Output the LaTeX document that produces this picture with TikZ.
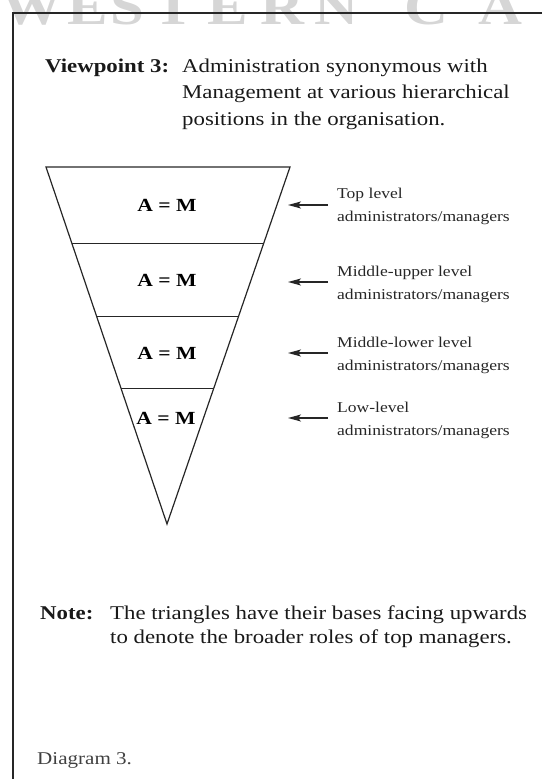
\documentclass[tikz,border=0pt]{standalone}
\usepackage{fontspec}
\setmainfont[FakeStretch=1.17]{Liberation Serif}
\usetikzlibrary{arrows.meta,calc}
\tikzset{
  frame/.style={line width=1.5pt, draw=black!85},
  tri/.style={line width=1.2pt, draw=black!85},
  lvl/.style={font=\fontsize{18.5}{18.5}\selectfont\bfseries, inner sep=0pt},
  lbl/.style={font=\fontsize{15}{15}\selectfont, anchor=base west, inner sep=0pt, text=black!85},
  body/.style={font=\fontsize{19.5}{19.5}\selectfont, anchor=base west, inner sep=0pt, text=black!90},
  bodyb/.style={body, font=\fontsize{19.5}{19.5}\selectfont\bfseries},
  pointer/.style={line width=1.4pt, draw=black!85, -{Stealth[length=13pt,width=7pt,inset=3pt]}},
  wmark/.style={font=\fontsize{52}{52}\selectfont\bfseries, text=black!16, anchor=base, inner sep=0pt},
}
\begin{document}
\begin{tikzpicture}[x=1pt,y=-1pt]
\useasboundingbox (0,0) rectangle (542,779);
% watermark
\begin{scope}
\clip (0,0) rectangle (542,779);
\foreach \ch/\xx [count=\i] in {W/32, E/88, S/127, T/174, E/228, R/282, N/336, C/426, A/500}
  \node[wmark, name=wm\i] at (\xx,24) {\ch};
\end{scope}
% frame
\coordinate (fr) at (542,13);
\coordinate (fc) at (13,13);
\coordinate (fb) at (13,779);
\draw[frame] (fr) -- (fc) -- (fb);
% header
\node[bodyb] (vp) at (45,72) {Viewpoint 3:};
\node[body] (h1) at (182,72) {Administration synonymous with};
\node[body] (h2) at (182,98.5) {Management at various hierarchical};
\node[body] (h3) at (182,125) {positions in the organisation.};
% triangle
\coordinate (tl) at (46,167);
\coordinate (tr) at (290,167);
\coordinate (ap) at (167,524);
\draw[tri, line join=miter] (tl) -- (tr) -- (ap) -- cycle;
\foreach \t in {0.2151,0.4190,0.6200}
  \draw[tri] ($(tl)!\t!(ap)$) -- ($(tr)!\t!(ap)$);
\node[lvl] (m1) at (167,205) {A = M};
\node[lvl] (m2) at (167,280) {A = M};
\node[lvl] (m3) at (167,353) {A = M};
\node[lvl] (m4) at (166,418) {A = M};
% arrows
\foreach \i/\yy in {1/205,2/282,3/353,4/418}{
  \coordinate (s\i) at (328,\yy);
  \coordinate (e\i) at (288,\yy);
  \draw[pointer] (s\i) -- (e\i);
}
% labels
\node[lbl] (l1a) at (337,198) {Top level};
\node[lbl] (l1b) at (337,221) {administrators/managers};
\node[lbl] (l2a) at (337,276) {Middle-upper level};
\node[lbl] (l2b) at (337,299) {administrators/managers};
\node[lbl] (l3a) at (337,347) {Middle-lower level};
\node[lbl] (l3b) at (337,370) {administrators/managers};
\node[lbl] (l4a) at (337,412) {Low-level};
\node[lbl] (l4b) at (337,435) {administrators/managers};
% note
\node[bodyb] (nt) at (40,619) {Note:};
\node[body] (n1) at (110,619) {The triangles have their bases facing upwards};
\node[body] (n2) at (110,643) {to denote the broader roles of top managers.};
% caption
\node[body, font=\fontsize{18}{18}\selectfont, text=black!75] (cap) at (37,764) {Diagram 3.};
\end{tikzpicture}
\end{document}
